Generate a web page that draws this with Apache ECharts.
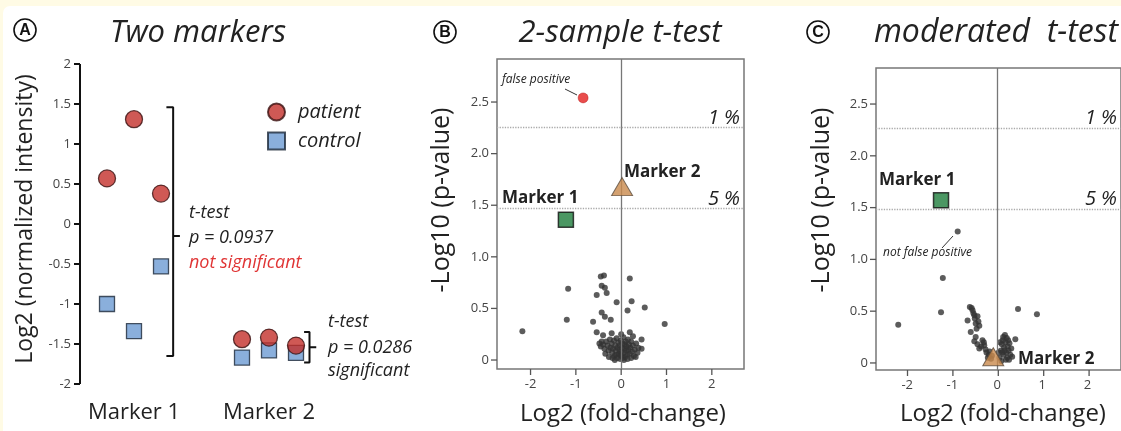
<!DOCTYPE html>
<html><head><meta charset="utf-8">
<script src="https://cdn.jsdelivr.net/npm/echarts@6/dist/echarts.min.js"></script>
<style>
html,body{margin:0;padding:0;background:#fffbe5;overflow:hidden;}
#bg{position:absolute;left:3px;top:6px;width:1140px;height:440px;background:#fff;border-radius:7px;}
#c{position:absolute;left:0;top:0;width:1121px;height:431px;}
</style>
</head><body><div id="bg"></div><div id="c"></div>
<script>
// ---------- Panel A data ----------
const groupCats = ['Marker 1', 'Marker 2'];
const groupOffsets = [-0.2, 0, 0.2];
const patientMarker1 = [0.57, 1.31, 0.38];
const patientMarker2 = [-1.44, -1.42, -1.52];
const controlMarker1 = [-1.00, -1.34, -0.53];
const controlMarker2 = [-1.67, -1.58, -1.61];
const bracketMarker1 = [[0.24, 1.46], [0.29, 1.46], [0.29, -0.15], [0.34, -0.15], [0.29, -0.15], [0.29, -1.65], [0.24, -1.65]];
const bracketMarker2 = [[1.26, -1.35], [1.30, -1.35], [1.30, -1.54], [1.35, -1.54], [1.30, -1.54], [1.30, -1.73], [1.26, -1.73]];
const panelATicks = [-2, -1.5, -1, -0.5, 0, 0.5, 1, 1.5, 2];

// ---------- Volcano plots ----------
const volcanoTicksX = [-2, -1, 0, 1, 2];
const volcanoTicksY = [0, 0.5, 1, 1.5, 2, 2.5];

// Panel B: 2-sample t-test
const twoSampleOthers = [
  [-2.18,0.28],[-1.17,0.69],[-1.20,0.39],[-0.45,0.81],[-0.38,0.82],[0.19,0.79],[-0.43,0.72],[-0.36,0.70],
  [-0.32,0.65],[-0.54,0.63],[-0.10,0.56],[0.23,0.57],[0.14,0.48],[0.52,0.51],[-0.43,0.46],[-0.36,0.42],
  [-0.23,0.39],[-0.62,0.37],[0.96,0.35],[-0.54,0.27],[-0.40,0.24],[-0.21,0.26],[0.19,0.27],[0.26,0.23],
  [0.45,0.20],[0.45,0.11],[-0.43,0.18],[0.00,0.25],
  [-0.48,0.16],[-0.45,0.13],[-0.40,0.15],[-0.37,0.11],[-0.33,0.18],[-0.30,0.14],[-0.28,0.09],[-0.25,0.20],
  [-0.24,0.12],[-0.21,0.16],[-0.20,0.07],[-0.18,0.11],[-0.16,0.19],[-0.15,0.04],[-0.13,0.14],[-0.12,0.09],
  [-0.10,0.21],[-0.09,0.02],[-0.08,0.12],[-0.06,0.17],[-0.05,0.06],[-0.04,0.10],[-0.03,0.14],[-0.02,0.01],
  [-0.01,0.19],[0.00,0.08],[0.01,0.04],[0.02,0.12],[0.03,0.16],[0.04,0.02],[0.05,0.22],[0.06,0.07],
  [0.07,0.11],[0.08,0.15],[0.09,0.03],[0.10,0.18],[0.11,0.09],[0.12,0.13],[0.13,0.05],[0.15,0.20],
  [0.16,0.10],[0.17,0.15],[0.19,0.06],[0.20,0.12],[0.22,0.18],[0.24,0.08],[0.26,0.14],[0.28,0.04],
  [0.30,0.10],[0.33,0.16],[0.36,0.07],[0.38,0.12],[-0.35,0.06],[-0.27,0.03],[-0.14,0.00],[-0.02,0.05],
  [0.06,0.00],[0.14,0.01],[-0.11,0.05],[0.22,0.02],[-0.19,0.02],[0.32,0.03]
];
const twoSampleFalsePositive = [[-0.84, 2.54]];
const twoSampleMarker1 = [[-1.22, 1.36]];
const twoSampleMarker2 = [[0.02, 1.68]];
const twoSampleThresholds = [2.26, 1.47];

// Panel C: moderated t-test
const moderatedOthers = [
  [-2.20,0.37],[-1.21,0.82],[-1.25,0.49],[0.46,0.52],[0.88,0.47],[-0.88,1.27],
  [-0.61,0.54],[-0.57,0.53],[-0.55,0.51],[-0.53,0.48],[-0.51,0.46],[-0.66,0.41],[-0.50,0.43],[-0.44,0.45],
  [-0.42,0.40],[-0.48,0.38],[-0.40,0.36],[-0.46,0.33],[-0.59,0.30],[-0.48,0.25],[-0.51,0.21],[-0.44,0.18],
  [-0.33,0.22],[-0.29,0.17],[-0.40,0.14],[-0.26,0.13],[-0.24,0.10],[-0.19,0.08],[-0.36,0.16],[-0.30,0.20],
  [-0.21,0.05],[-0.17,0.11],[-0.14,0.04],[-0.12,0.07],
  [0.17,0.27],[0.40,0.23],[0.05,0.05],[0.08,0.12],[0.10,0.18],[0.12,0.22],[0.14,0.08],[0.15,0.15],
  [0.18,0.20],[0.20,0.10],[0.22,0.05],[0.23,0.16],[0.25,0.12],[0.27,0.19],[0.29,0.08],[0.31,0.14],
  [0.06,0.20],[0.09,0.02],[0.13,0.25],[0.19,0.03],[0.26,0.03],[0.33,0.06],[0.11,0.10],[0.16,0.12],
  [0.21,0.24],[0.03,0.10],[0.24,0.22]
];
const moderatedMarker1 = [[-1.25, 1.57]];
const moderatedMarker2 = [[-0.09, 0.06]];
const moderatedThresholds = [2.27, 1.48];

// ---------- layout ----------
const gridDefs = [
  { left: 80, top: 64, width: 297, height: 320, xMin: -0.4, xMax: 1.8, yMin: -2, yMax: 2 },
  { left: 497, top: 59, width: 247, height: 310, xMin: -2.74, xMax: 2.71, yMin: -0.087, yMax: 2.917 },
  { left: 876, top: 68, width: 247, height: 302, xMin: -2.694, xMax: 2.747, yMin: -0.068, yMax: 2.848 }
];

// ---------- build ----------
const FF = "'Open Sans', 'Noto Sans', sans-serif";
function groupPoints(vals, g) { return vals.map((v, i) => [g + groupOffsets[i], v]); }
const patientData = groupPoints(patientMarker1, 0).concat(groupPoints(patientMarker2, 1));
const controlData = groupPoints(controlMarker1, 0).concat(groupPoints(controlMarker2, 1));

const volcanoFmt = v => v === 0 ? '0' : v.toFixed(1);
function volcanoX(idx) {
  const d = gridDefs[idx];
  return { type: 'value', gridIndex: idx, min: d.xMin, max: d.xMax, splitLine: { show: false },
    axisLine: { show: false, onZero: false }, axisTick: { show: false },
    axisLabel: { customValues: volcanoTicksX, fontSize: 13, color: '#444', fontFamily: FF, margin: 9 } };
}
function volcanoY(idx) {
  const d = gridDefs[idx];
  return { type: 'value', gridIndex: idx, min: d.yMin, max: d.yMax, splitLine: { show: false },
    axisLine: { show: false, onZero: false }, axisTick: { show: false },
    axisLabel: { customValues: volcanoTicksY, formatter: volcanoFmt, fontSize: 13, color: '#444', fontFamily: FF, margin: 8 } };
}
function refLines(th) {
  return { symbol: ['none', 'none'], silent: true, label: { show: false }, animation: false,
    data: [
      { xAxis: 0, lineStyle: { type: 'solid', color: '#777', width: 1.3 } },
      { yAxis: th[0], lineStyle: { type: 'dotted', color: '#aaa', width: 1.3 } },
      { yAxis: th[1], lineStyle: { type: 'dotted', color: '#aaa', width: 1.3 } }
    ] };
}
const dotStyle = { color: '#333' };
const greenStyle = { color: '#1e7d3c', borderColor: '#111', borderWidth: 1.5 };
const triStyle = { color: '#c98a4c', borderColor: '#5a4a3a', borderWidth: 1 };

function txt(x, y, s, font, opts) {
  return { type: 'text', x: x, y: y, z: 50,
    style: Object.assign({ text: s, font: font, fill: '#222', align: 'left', verticalAlign: 'middle' }, opts || {}) };
}
function vtxt(x, y, s, font) {
  return { type: 'text', x: x, y: y, rotation: Math.PI / 2, z: 50,
    style: { text: s, font: font, fill: '#222', align: 'center', verticalAlign: 'middle' } };
}
function seg(x1, y1, x2, y2, color, w) {
  return { type: 'line', z: 40, shape: { x1: x1, y1: y1, x2: x2, y2: y2 }, style: { stroke: color, lineWidth: w } };
}
function badge(cx, cy, L) {
  return [
    { type: 'circle', shape: { cx: cx, cy: cy, r: 11 }, z: 50, style: { fill: '#fff', stroke: '#111', lineWidth: 1.6 } },
    { type: 'text', x: cx, y: cy + 1, z: 51, style: { text: L, font: 'bold 16px Arial, Liberation Sans, sans-serif', fill: '#111', align: 'center', verticalAlign: 'middle' } }
  ];
}
const it = (s) => 'italic ' + s + 'px ' + FF;
const rg = (s) => s + 'px ' + FF;
const bd = (s) => 'bold ' + s + 'px ' + FF;

// Axis lines and tick marks from the same linear axis definitions the grids use
function toPx(g, x, y) {
  const d = gridDefs[g];
  return [d.left + (x - d.xMin) / (d.xMax - d.xMin) * d.width,
          d.top + (d.yMax - y) / (d.yMax - d.yMin) * d.height];
}
const axisMarks = [];
const dA = gridDefs[0];
const aTopPt = toPx(0, dA.xMin, dA.yMax), aBotPt = toPx(0, dA.xMin, dA.yMin);
axisMarks.push(seg(aTopPt[0], aTopPt[1], aBotPt[0], aBotPt[1], '#111', 2));
panelATicks.forEach(v => { const q = toPx(0, dA.xMin, v); axisMarks.push(seg(q[0] - 6, q[1], q[0], q[1], '#111', 2)); });
[1, 2].forEach(g => {
  const d = gridDefs[g];
  volcanoTicksX.forEach(v => { const q = toPx(g, v, d.yMin); axisMarks.push(seg(q[0], q[1], q[0], q[1] + 6, '#555', 1.3)); });
  volcanoTicksY.forEach(v => { const q = toPx(g, d.xMin, v); axisMarks.push(seg(q[0] - 6, q[1], q[0], q[1], '#555', 1.3)); });
});

const graphics = [
  ...badge(25, 30, 'A'), ...badge(445, 32, 'B'), ...badge(818, 32, 'C'),
  txt(198, 33, 'Two markers', it(31), { align: 'center' }),
  txt(620, 33, '2-sample t-test', it(31), { align: 'center' }),
  txt(996, 33, 'moderated  t-test', it(32), { align: 'center' }),
  vtxt(25, 219, 'Log2 (normalized intensity)', rg(23)),
  vtxt(442, 200, '-Log10 (p-value)', rg(25)),
  vtxt(822, 200, '-Log10 (p-value)', rg(25)),
  txt(623, 414, 'Log2 (fold-change)', rg(24), { align: 'center' }),
  txt(1003, 414, 'Log2 (fold-change)', rg(24), { align: 'center' }),
  txt(189, 213, 't-test', it(18)),
  txt(189, 238, 'p = 0.0937', it(18)),
  txt(189, 263, 'not significant', it(18), { fill: '#e03535' }),
  txt(328, 322, 't-test', it(18)),
  txt(328, 348, 'p = 0.0286', it(18)),
  txt(328, 371, 'significant', it(18)),
  txt(502, 80, 'false positive', it(12)),
  seg(565, 89, 577, 95, '#333', 1),
  txt(624, 172, 'Marker 2', bd(17)),
  txt(502, 198, 'Marker 1', bd(17)),
  txt(740, 118, '1 %', it(20), { align: 'right' }),
  txt(740, 199, '5 %', it(20), { align: 'right' }),
  txt(879, 180, 'Marker 1', bd(17)),
  txt(1018, 359, 'Marker 2', bd(17)),
  txt(883, 253, 'not false positive', it(12)),
  seg(942, 248, 953, 236, '#333', 1),
  txt(1117, 118, '1 %', it(20), { align: 'right' }),
  txt(1117, 199, '5 %', it(20), { align: 'right' })
].concat(axisMarks);

const chart = echarts.init(document.getElementById('c'), null, { renderer: 'canvas' });
chart.setOption({
  animation: false,
  backgroundColor: 'transparent',
  textStyle: { fontFamily: FF },
  legend: {
    data: ['patient', 'control'], orient: 'vertical', left: 267, top: 102, padding: 0,
    itemWidth: 17, itemHeight: 17, itemGap: 9,
    textStyle: { fontStyle: 'italic', fontSize: 20, color: '#222', fontFamily: FF, padding: [0, 0, 0, 8] }
  },
  grid: [
    { left: gridDefs[0].left, top: gridDefs[0].top, width: gridDefs[0].width, height: gridDefs[0].height, show: false },
    { left: gridDefs[1].left, top: gridDefs[1].top, width: gridDefs[1].width, height: gridDefs[1].height, show: true, borderColor: '#777', borderWidth: 1.5, backgroundColor: 'transparent' },
    { left: gridDefs[2].left, top: gridDefs[2].top, width: gridDefs[2].width, height: gridDefs[2].height, show: true, borderColor: '#777', borderWidth: 1.5, backgroundColor: 'transparent' }
  ],
  xAxis: [
    { type: 'value', gridIndex: 0, min: gridDefs[0].xMin, max: gridDefs[0].xMax, splitLine: { show: false },
      axisLine: { show: false, onZero: false }, axisTick: { show: false },
      axisLabel: { customValues: [0, 1], formatter: v => groupCats[Math.round(v)], fontSize: 22, color: '#222', fontFamily: FF, margin: 18 } },
    volcanoX(1),
    volcanoX(2)
  ],
  yAxis: [
    { type: 'value', gridIndex: 0, min: gridDefs[0].yMin, max: gridDefs[0].yMax, splitLine: { show: false },
      axisLine: { show: false, onZero: false }, axisTick: { show: false },
      axisLabel: { customValues: panelATicks, fontSize: 13, color: '#444', fontFamily: FF, margin: 9 } },
    volcanoY(1),
    volcanoY(2)
  ],
  graphic: { elements: graphics },
  series: [
    { name: 'control', type: 'scatter', xAxisIndex: 0, yAxisIndex: 0, symbol: 'rect', symbolSize: 15, z: 3,
      itemStyle: { color: '#6d9bd3', borderColor: '#1c2838', borderWidth: 1.3 }, data: controlData },
    { name: 'patient', type: 'scatter', xAxisIndex: 0, yAxisIndex: 0, symbol: 'circle', symbolSize: 17, z: 4,
      itemStyle: { color: '#c3302a', borderColor: '#3a1010', borderWidth: 1.3 }, data: patientData },
    { name: 'bracket1', type: 'line', xAxisIndex: 0, yAxisIndex: 0, symbol: 'none', silent: true,
      lineStyle: { color: '#111', width: 2 }, data: bracketMarker1 },
    { name: 'bracket2', type: 'line', xAxisIndex: 0, yAxisIndex: 0, symbol: 'none', silent: true,
      lineStyle: { color: '#111', width: 2 }, data: bracketMarker2 },

    { name: 'B others', type: 'scatter', xAxisIndex: 1, yAxisIndex: 1, symbolSize: 6, itemStyle: dotStyle,
      data: twoSampleOthers, markLine: refLines(twoSampleThresholds) },
    { name: 'B false positive', type: 'scatter', xAxisIndex: 1, yAxisIndex: 1, symbolSize: 10,
      itemStyle: { color: '#e3201f', borderColor: '#b01010', borderWidth: 0.5 }, data: twoSampleFalsePositive },
    { name: 'B marker 1', type: 'scatter', xAxisIndex: 1, yAxisIndex: 1, symbol: 'rect', symbolSize: 15, z: 5,
      itemStyle: greenStyle, data: twoSampleMarker1 },
    { name: 'B marker 2', type: 'scatter', xAxisIndex: 1, yAxisIndex: 1, symbol: 'triangle', symbolSize: [21, 18], z: 5,
      itemStyle: triStyle, data: twoSampleMarker2 },

    { name: 'C others', type: 'scatter', xAxisIndex: 2, yAxisIndex: 2, symbolSize: 6, itemStyle: dotStyle,
      data: moderatedOthers, markLine: refLines(moderatedThresholds) },
    { name: 'C marker 1', type: 'scatter', xAxisIndex: 2, yAxisIndex: 2, symbol: 'rect', symbolSize: 15, z: 5,
      itemStyle: greenStyle, data: moderatedMarker1 },
    { name: 'C marker 2', type: 'scatter', xAxisIndex: 2, yAxisIndex: 2, symbol: 'triangle', symbolSize: [21, 18], z: 5,
      itemStyle: triStyle, data: moderatedMarker2 }
  ]
});
</script></body></html>
